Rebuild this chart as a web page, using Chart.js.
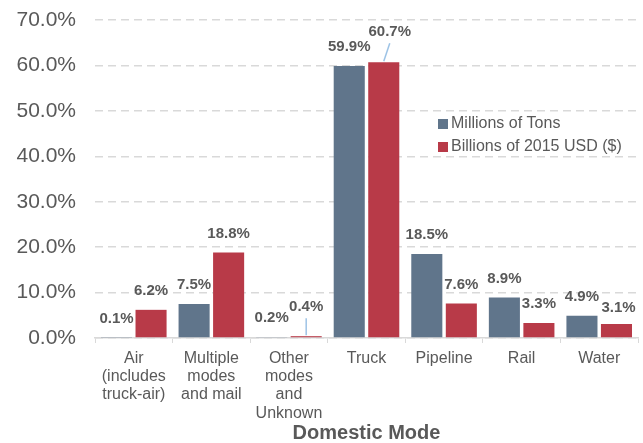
<!DOCTYPE html>
<html>
<head>
<meta charset="utf-8">
<script src="https://cdn.jsdelivr.net/npm/chart.js@4"></script>
<style>
  html, body { margin: 0; padding: 0; background: #fff; }
  #wrap { width: 643px; height: 443px; }
</style>
</head>
<body>
<div id="wrap"><canvas id="chart" width="643" height="443"></canvas></div>
<script>
const categories = [
  ["Air", "(includes", "truck-air)"],
  ["Multiple", "modes", "and mail"],
  ["Other", "modes", "and", "Unknown"],
  "Truck",
  "Pipeline",
  "Rail",
  "Water",
];
const seriesNames = ["Millions of Tons", "Billions of 2015 USD ($)"];
const tons = [0.1, 7.5, 0.2, 59.9, 18.5, 8.9, 4.9];
const usd = [6.2, 18.8, 0.4, 60.7, 7.6, 3.3, 3.1];
const yTicks = [0, 10, 20, 30, 40, 50, 60, 70];

const textColor = "#595959";
const colors = ["#60758b", "#b83a48"];
const leaderColor = "#9dc3e6";
const FONT = "'Liberation Sans', Arial, sans-serif";

// label shifts (dx, distance above bar top) where the default would collide
const labelShift = {
  "1-2": { dx: 0, up: 29, leader: true },
  "1-3": { dx: 6, up: 30, leader: true },
  "1-6": { dx: 2, up: 16 },
};

const valueLabels = {
  id: "valueLabels",
  afterDatasetsDraw(chart) {
    const ctx = chart.ctx;
    ctx.save();
    ctx.font = "bold 15px " + FONT;
    ctx.textAlign = "center";
    ctx.textBaseline = "middle";
    chart.data.datasets.forEach((ds, i) => {
      chart.getDatasetMeta(i).data.forEach((bar, j) => {
        const s = labelShift[i + "-" + j] || { dx: 0, up: 19 };
        const x = bar.x + s.dx;
        const y = bar.y - s.up;
        if (s.leader) {
          ctx.strokeStyle = leaderColor;
          ctx.lineWidth = 1.5;
          ctx.beginPath();
          ctx.moveTo(x, y + 11);
          ctx.lineTo(bar.x, bar.y - 1);
          ctx.stroke();
        }
        ctx.fillStyle = textColor;
        ctx.fillText(ds.data[j].toFixed(1) + "%", x, y);
      });
    });
    ctx.restore();
  },
};

const insideLegend = {
  id: "insideLegend",
  afterDraw(chart) {
    const ctx = chart.ctx;
    ctx.save();
    ctx.font = "16px " + FONT;
    ctx.textBaseline = "middle";
    seriesNames.forEach((name, i) => {
      const y = 124 + i * 23;
      ctx.fillStyle = colors[i];
      ctx.fillRect(438, y - 5, 10, 10);
      ctx.fillStyle = textColor;
      ctx.fillText(name, 451, y);
    });
    ctx.restore();
  },
};

new Chart(document.getElementById("chart"), {
  type: "bar",
  data: {
    labels: categories,
    datasets: [
      { label: seriesNames[0], data: tons, backgroundColor: colors[0] },
      { label: seriesNames[1], data: usd, backgroundColor: colors[1] },
    ],
  },
  options: {
    responsive: false,
    animation: false,
    barPercentage: 0.9,
    categoryPercentage: 0.89,
    layout: { padding: { top: 20, right: 5, bottom: 0, left: 0 } },
    scales: {
      x: {
        afterFit: (scale) => { scale.height = 105; },
        grid: {
          drawOnChartArea: false,
          drawTicks: true,
          tickLength: 5,
          color: "#d9d9d9",
        },
        border: { display: true, color: "#d9d9d9", width: 1.5 },
        ticks: {
          color: textColor,
          font: { family: FONT, size: 16, lineHeight: 1.15 },
          padding: 6,
          maxRotation: 0,
          autoSkip: false,
        },
        title: {
          display: true,
          text: "Domestic Mode",
          color: textColor,
          font: { family: FONT, size: 20, weight: "bold" },
          padding: { top: 0, bottom: -2 },
        },
      },
      y: {
        min: 0,
        max: 70,
        afterFit: (scale) => {
          scale.width = 95;
          scale.paddingTop = 10;
          scale.paddingBottom = 10;
        },
        afterBuildTicks: (scale) => {
          scale.ticks = yTicks.map((v) => ({ value: v }));
        },
        grid: {
          drawTicks: false,
          color: "#d9d9d9",
          lineWidth: 1.5,
        },
        border: { display: false, dash: [8, 5] },
        ticks: {
          color: textColor,
          font: { family: FONT, size: 21 },
          padding: 19,
          callback: (v) => v.toFixed(1) + "%",
        },
      },
    },
    plugins: {
      legend: { display: false },
      tooltip: { enabled: false },
    },
  },
  plugins: [valueLabels, insideLegend],
});
</script>
</body>
</html>
